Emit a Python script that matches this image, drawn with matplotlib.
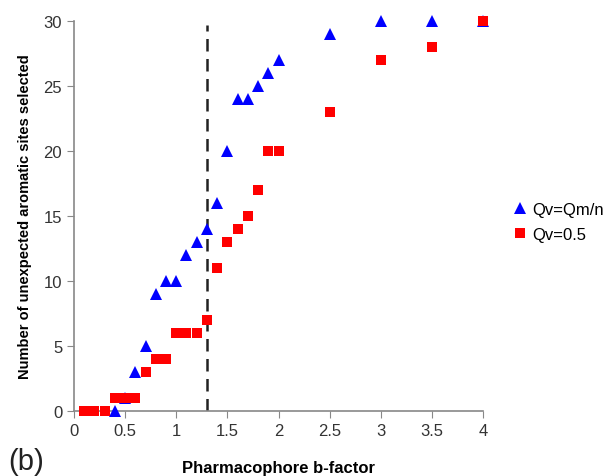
import matplotlib
matplotlib.use("Agg")
import matplotlib.pyplot as plt

plt.rcParams['font.family'] = ['Liberation Sans', 'DejaVu Sans']

blue_x = [0.4, 0.5, 0.6, 0.7, 0.8, 0.9, 1.0, 1.1, 1.2, 1.3, 1.4, 1.5, 1.6, 1.7, 1.8, 1.9, 2.0, 2.5, 3.0, 3.5, 4.0]
blue_y = [0, 1, 3, 5, 9, 10, 10, 12, 13, 14, 16, 20, 24, 24, 25, 26, 27, 29, 30, 30, 30]
red_x = [0.1, 0.2, 0.3, 0.4, 0.5, 0.6, 0.7, 0.8, 0.9, 1.0, 1.1, 1.2, 1.3, 1.4, 1.5, 1.6, 1.7, 1.8, 1.9, 2.0, 2.5, 3.0, 3.5, 4.0]
red_y = [0, 0, 0, 1, 1, 1, 3, 4, 4, 6, 6, 6, 7, 11, 13, 14, 15, 17, 20, 20, 23, 27, 28, 30]
cutoff = 1.3
x_ticks = [0, 0.5, 1, 1.5, 2, 2.5, 3, 3.5, 4]
x_labels = ["0", "0.5", "1", "1.5", "2", "2.5", "3", "3.5", "4"]
y_ticks = [0, 5, 10, 15, 20, 25, 30]

fig = plt.figure(figsize=(6.04, 4.77), dpi=100)
ax = fig.add_axes([0.1225, 0.1363, 0.6772, 0.8176])

ax.plot(blue_x, blue_y, linestyle='none', marker='^', color='#0000ff', markersize=9,
        markeredgewidth=0, label='Qv=Qm/n', clip_on=False, zorder=3)
ax.plot(red_x, red_y, linestyle='none', marker='s', color='#ff0000', markersize=7.5,
        markeredgewidth=0, label='Qv=0.5', clip_on=False, zorder=4)
ax.plot([cutoff, cutoff], [0, 29.7], color='#222222', linestyle=(0, (5, 3)), linewidth=1.8, zorder=2)

ax.set_xlim(0, 4)
ax.set_ylim(0, 30)
ax.set_xticks(x_ticks)
ax.set_xticklabels(x_labels)
ax.set_yticks(y_ticks)
for s in ['top', 'right']:
    ax.spines[s].set_visible(False)
for s in ['left', 'bottom']:
    ax.spines[s].set_color('#888888')
    ax.spines[s].set_linewidth(1.2)
ax.tick_params(direction='out', length=5, color='#888888', labelsize=12, labelcolor='#333333')

ax.set_xlabel('Pharmacophore b-factor', fontsize=12, fontweight='bold', labelpad=16)
ax.set_ylabel('Number of unexpected aromatic sites selected', fontsize=10.5, fontweight='bold', labelpad=8)

leg = ax.legend(loc='center left', bbox_to_anchor=(1.05, 0.485), frameon=False, fontsize=12,
                handletextpad=0.1, handlelength=1.2, borderaxespad=0, labelspacing=0.6)

fig.text(0.014, 0.015, '(b)', fontsize=21, color='#222222')

fig.savefig('out.png', dpi=100)
